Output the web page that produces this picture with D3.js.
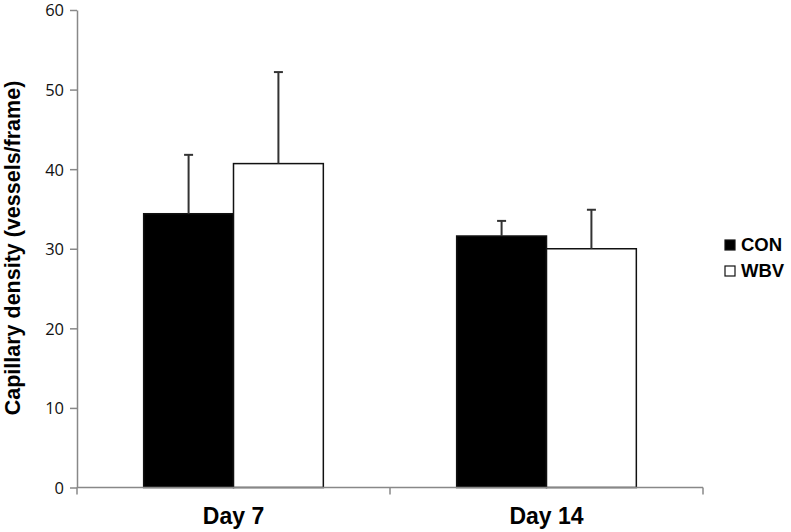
<!DOCTYPE html>
<html>
<head>
<meta charset="utf-8">
<script src="https://cdn.jsdelivr.net/npm/d3@7.9.0/dist/d3.min.js"></script>
<style>
  body { margin: 0; background: #fff; }
  svg { display: block; }
</style>
</head>
<body>
<svg id="chart" width="791" height="532"></svg>
<script>
// data
const days = ['Day 7', 'Day 14'];
const groups = ['CON', 'WBV'];
const conMeans = [34.4, 31.6];
const conErr = [7.4, 1.9];
const wbvMeans = [40.7, 30.0];
const wbvErr = [11.5, 4.9];
const yTicks = [0, 10, 20, 30, 40, 50, 60];

const fills = { CON: '#000', WBV: '#fff' };

const rows = days.map((d, i) => ({
  day: d,
  bars: [
    { group: 'CON', value: conMeans[i], err: conErr[i] },
    { group: 'WBV', value: wbvMeans[i], err: wbvErr[i] }
  ]
}));

const svg = d3.select('#chart');
const plotLeft = 77, plotRight = 703, plotTop = 10, plotBottom = 487.5;

const x = d3.scaleBand().domain(days).range([plotLeft, plotRight]).paddingInner(0).paddingOuter(0);
const xInner = d3.scaleBand().domain(groups).range([0, x.bandwidth() * 0.574]);
const groupOffset = (x.bandwidth() - xInner.range()[1]) / 2;
const y = d3.scaleLinear().domain([0, 60]).range([plotBottom, plotTop]);

// y axis
const yAxis = svg.append('g')
  .attr('transform', `translate(${plotLeft},0)`)
  .call(d3.axisLeft(y).tickValues(yTicks).tickSize(7).tickSizeOuter(0).tickPadding(6));
yAxis.select('.domain').attr('stroke', '#888').attr('stroke-width', 1.5);
yAxis.selectAll('.tick line').attr('stroke', '#888').attr('stroke-width', 1.5);
yAxis.selectAll('.tick text')
  .attr('fill', '#111')
  .attr('dy', '0.36em')
  .style('font-family', '"Open Sans", sans-serif')
  .style('font-size', '16.5px');

// bars
const g = svg.selectAll('g.day').data(rows).join('g')
  .attr('class', 'day')
  .attr('transform', d => `translate(${x(d.day) + groupOffset},0)`);

g.selectAll('rect').data(d => d.bars).join('rect')
  .attr('x', d => xInner(d.group))
  .attr('width', xInner.bandwidth())
  .attr('y', d => y(d.value))
  .attr('height', d => y(0) - y(d.value))
  .attr('fill', d => fills[d.group])
  .attr('stroke', '#111')
  .attr('stroke-width', 1.5);

// error bars (upper only)
const cap = 9;
g.selectAll('line.err').data(d => d.bars).join('line')
  .attr('class', 'err')
  .attr('x1', d => xInner(d.group) + xInner.bandwidth() / 2)
  .attr('x2', d => xInner(d.group) + xInner.bandwidth() / 2)
  .attr('y1', d => y(d.value))
  .attr('y2', d => y(d.value + d.err))
  .attr('stroke', '#333').attr('stroke-width', 2);
g.selectAll('line.cap').data(d => d.bars).join('line')
  .attr('class', 'cap')
  .attr('x1', d => xInner(d.group) + xInner.bandwidth() / 2 - cap / 2)
  .attr('x2', d => xInner(d.group) + xInner.bandwidth() / 2 + cap / 2)
  .attr('y1', d => y(d.value + d.err))
  .attr('y2', d => y(d.value + d.err))
  .attr('stroke', '#333').attr('stroke-width', 2);

// x axis (drawn last so baseline sits over bar edges)
const xAxis = svg.append('g')
  .attr('transform', `translate(0,${plotBottom})`);
xAxis.append('line')
  .attr('x1', plotLeft).attr('x2', plotRight)
  .attr('stroke', '#888').attr('stroke-width', 1.5);
xAxis.selectAll('line.tk').data([plotLeft, x(days[1]), plotRight]).join('line')
  .attr('class', 'tk')
  .attr('x1', d => d).attr('x2', d => d)
  .attr('y1', 0).attr('y2', 7)
  .attr('stroke', '#888').attr('stroke-width', 1.5);
xAxis.selectAll('text').data(days).join('text')
  .attr('x', d => x(d) + x.bandwidth() / 2)
  .attr('y', 36)
  .attr('text-anchor', 'middle')
  .style('font-family', '"Liberation Sans", Arial, sans-serif')
  .style('font-weight', 'bold')
  .style('font-size', '23px')
  .text(d => d);

// y title
svg.append('text')
  .attr('transform', 'translate(20,248) rotate(-90)')
  .attr('text-anchor', 'middle')
  .style('font-family', '"Liberation Sans", Arial, sans-serif')
  .style('font-weight', 'bold')
  .style('font-size', '21.5px')
  .text('Capillary density (vessels/frame)');

// legend
const legend = svg.append('g').attr('transform', 'translate(725,238)');
const li = legend.selectAll('g').data(groups).join('g')
  .attr('transform', (d, i) => `translate(0,${i * 26})`);
li.append('rect')
  .attr('width', 10).attr('height', 10)
  .attr('y', 2)
  .attr('fill', d => fills[d])
  .attr('stroke', '#111').attr('stroke-width', 1.2);
li.append('text')
  .attr('x', 16).attr('y', 13)
  .style('font-family', '"Liberation Sans", Arial, sans-serif')
  .style('font-weight', 'bold')
  .style('font-size', '18.5px')
  .text(d => d);
</script>
</body>
</html>
